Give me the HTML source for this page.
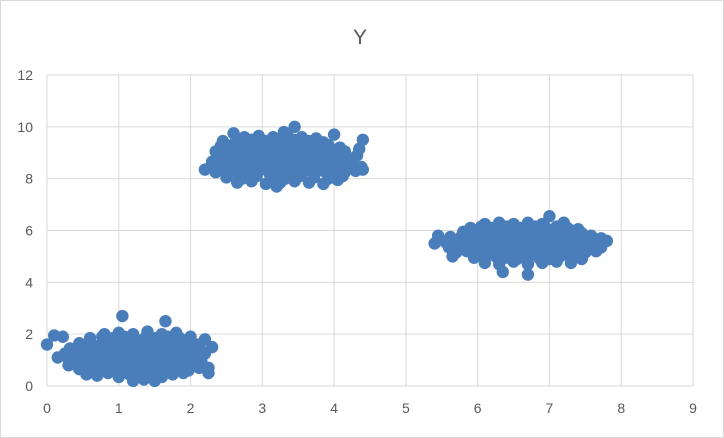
<!DOCTYPE html>
<html><head><meta charset="utf-8"><style>
html,body{margin:0;padding:0;background:#fff;}
svg{display:block;font-family:"Liberation Sans",Calibri,sans-serif;}
</style></head><body>
<svg id="chart" width="724" height="438">
<rect x="0.5" y="0.5" width="723" height="437" fill="#fff" stroke="#d9d9d9"/>
<text x="360" y="44" text-anchor="middle" font-size="21" fill="#595959">Y</text>
<g id="grid"></g><g id="axes"></g><g id="pts"></g>
</svg>
<script>
const xTicks=[0,1,2,3,4,5,6,7,8,9];
const yTicks=[0,2,4,6,8,10,12];
const clusterA=[[0,1.6],[0.1,1.95],[0.22,1.9],[0.15,1.1],[0.3,0.8],[1.05,2.7],[1.65,2.5],[2.25,0.7],[2.25,0.5],[2.3,1.5],[2.2,1.8],
[0.55,0.45],[0.7,0.4],[0.85,0.5],[1.0,0.35],[1.15,0.45],[1.3,0.4],[1.45,0.5],[1.6,0.35],[1.75,0.45],[1.9,0.5],
[0.35,0.85],[0.5,0.9],[0.65,0.8],[0.8,0.9],[0.95,0.85],[1.1,0.8],[1.25,0.9],[1.4,0.85],[1.55,0.8],[1.7,0.9],[1.85,0.85],[2.0,0.9],[2.15,0.95],
[0.25,1.25],[0.4,1.3],[0.55,1.2],[0.7,1.3],[0.85,1.25],[1.0,1.2],[1.15,1.3],[1.3,1.25],[1.45,1.2],[1.6,1.3],[1.75,1.25],[1.9,1.2],[2.05,1.3],[2.2,1.25],
[0.45,1.65],[0.6,1.7],[0.75,1.6],[0.9,1.7],[1.05,1.65],[1.2,1.6],[1.35,1.7],[1.5,1.65],[1.65,1.6],[1.8,1.7],[1.95,1.65],[2.1,1.6],
[0.8,2.0],[1.0,2.05],[1.2,2.0],[1.4,2.1],[1.6,2.0],[1.8,2.05],[1.2,0.2],[1.35,0.25],[1.5,0.2],
[0.45,0.65],[0.62,0.6],[0.78,0.7],[0.92,0.65],[1.08,0.6],[1.22,0.7],[1.38,0.65],[1.52,0.6],[1.68,0.7],[1.82,0.65],[1.97,0.6],[2.12,0.7],
[0.3,1.05],[0.47,1.0],[0.62,1.1],[0.78,1.05],[0.92,1.0],[1.07,1.1],[1.22,1.05],[1.37,1.0],[1.52,1.1],[1.67,1.05],[1.82,1.0],[1.97,1.1],[2.12,1.05],
[0.32,1.45],[0.48,1.4],[0.62,1.5],[0.78,1.45],[0.92,1.4],[1.08,1.5],[1.22,1.45],[1.38,1.4],[1.52,1.5],[1.68,1.45],[1.82,1.4],[1.98,1.5],[2.13,1.45],
[0.6,1.85],[0.77,1.9],[0.92,1.85],[1.08,1.9],[1.22,1.85],[1.38,1.9],[1.52,1.85],[1.68,1.9],[1.85,1.85],[2.0,1.9]];
const clusterB=[[2.2,8.35],[2.6,9.75],[3.45,10.0],[3.3,9.8],[4.0,9.7],[4.4,9.5],[4.35,9.15],[4.4,8.35],[3.2,7.7],
[2.65,7.85],[2.85,7.9],[3.05,7.8],[3.25,7.85],[3.45,7.9],[3.65,7.85],[3.85,7.8],[4.05,7.95],
[2.35,8.25],[2.5,8.3],[2.65,8.2],[2.8,8.25],[2.95,8.3],[3.1,8.2],[3.25,8.25],[3.4,8.3],[3.55,8.2],[3.7,8.25],[3.85,8.3],[4.0,8.2],[4.15,8.25],[4.3,8.3],
[2.3,8.65],[2.45,8.7],[2.6,8.6],[2.75,8.65],[2.9,8.7],[3.05,8.6],[3.2,8.65],[3.35,8.7],[3.5,8.6],[3.65,8.65],[3.8,8.7],[3.95,8.6],[4.1,8.65],[4.25,8.7],
[2.35,9.05],[2.5,9.1],[2.65,9.0],[2.8,9.05],[2.95,9.1],[3.1,9.0],[3.25,9.05],[3.4,9.1],[3.55,9.0],[3.7,9.05],[3.85,9.1],[4.0,9.0],[4.15,9.05],
[2.45,9.45],[2.65,9.4],[2.85,9.5],[3.05,9.45],[3.25,9.4],[3.45,9.5],[3.65,9.45],[3.85,9.4],
[2.5,8.05],[2.72,8.0],[2.92,8.1],[3.12,8.05],[3.32,8.0],[3.52,8.1],[3.72,8.05],[3.92,8.0],[4.12,8.1],
[2.28,8.45],[2.42,8.5],[2.58,8.4],[2.72,8.45],[2.88,8.5],[3.02,8.4],[3.18,8.45],[3.32,8.5],[3.48,8.4],[3.62,8.45],[3.78,8.5],[3.92,8.4],[4.08,8.45],[4.22,8.5],[4.38,8.45],
[2.38,8.85],[2.52,8.9],[2.68,8.8],[2.82,8.85],[2.98,8.9],[3.12,8.8],[3.28,8.85],[3.42,8.9],[3.58,8.8],[3.72,8.85],[3.88,8.9],[4.02,8.8],[4.18,8.85],[4.32,8.9],
[2.42,9.25],[2.58,9.3],[2.72,9.2],[2.88,9.25],[3.02,9.3],[3.18,9.2],[3.32,9.25],[3.48,9.3],[3.62,9.2],[3.78,9.25],[3.92,9.3],[4.08,9.2],
[2.75,9.6],[2.95,9.65],[3.15,9.6],[3.35,9.65],[3.55,9.6],[3.75,9.55]];
const clusterC=[[5.4,5.5],[5.45,5.8],[7.0,6.55],[7.8,5.6],[5.65,5.0],[6.35,4.4],[6.7,4.3],
[6.1,4.75],[6.3,4.7],[6.5,4.8],[6.7,4.7],[6.9,4.75],[7.1,4.8],[7.3,4.75],
[5.7,5.15],[5.85,5.2],[6.0,5.1],[6.15,5.15],[6.3,5.2],[6.45,5.1],[6.6,5.15],[6.75,5.2],[6.9,5.1],[7.05,5.15],[7.2,5.2],[7.35,5.1],[7.5,5.15],[7.65,5.2],
[5.55,5.55],[5.7,5.6],[5.85,5.5],[6.0,5.55],[6.15,5.6],[6.3,5.5],[6.45,5.55],[6.6,5.6],[6.75,5.5],[6.9,5.55],[7.05,5.6],[7.2,5.5],[7.35,5.55],[7.5,5.6],[7.65,5.5],[7.75,5.55],
[5.8,5.95],[5.95,6.0],[6.1,5.9],[6.25,5.95],[6.4,6.0],[6.55,5.9],[6.7,5.95],[6.85,6.0],[7.0,5.9],[7.15,5.95],[7.3,6.0],[7.45,5.9],
[6.1,6.25],[6.3,6.3],[6.5,6.25],[6.7,6.3],[6.9,6.25],[7.2,6.3],
[5.95,4.95],[6.1,4.9],[6.25,5.0],[6.4,4.95],[6.55,4.9],[6.7,5.0],[6.85,4.95],[7.0,4.9],[7.15,5.0],[7.3,4.95],[7.45,4.9],
[5.6,5.35],[5.78,5.4],[5.92,5.3],[6.08,5.35],[6.22,5.4],[6.38,5.3],[6.52,5.35],[6.68,5.4],[6.82,5.3],[6.98,5.35],[7.12,5.4],[7.28,5.3],[7.42,5.35],[7.58,5.4],[7.72,5.35],
[5.62,5.75],[5.78,5.8],[5.92,5.7],[6.08,5.75],[6.22,5.8],[6.38,5.7],[6.52,5.75],[6.68,5.8],[6.82,5.7],[6.98,5.75],[7.12,5.8],[7.28,5.7],[7.42,5.75],[7.58,5.8],[7.72,5.7],
[5.9,6.1],[6.05,6.15],[6.2,6.1],[6.4,6.15],[6.6,6.1],[6.8,6.15],[6.95,6.1],[7.1,6.15],[7.25,6.1],[7.4,6.05]];
const NS="http://www.w3.org/2000/svg";
const L=47,R=693,T=75,B=386;
const sx=v=>L+(v-0)/(9-0)*(R-L);
const sy=v=>B-(v-0)/(12-0)*(B-T);
const grid=document.getElementById('grid'),axes=document.getElementById('axes'),pts=document.getElementById('pts');
function mk(tag,attrs,parent){const e=document.createElementNS(NS,tag);for(const k in attrs)e.setAttribute(k,attrs[k]);parent.appendChild(e);return e;}
xTicks.forEach(t=>{
 const l=mk('line',{x1:sx(t),x2:sx(t),y1:T,y2:B,stroke:'#d9d9d9'},grid);
 
 
 const tx=mk('text',{x:sx(t),y:B+27,'text-anchor':'middle','font-size':14,fill:'#595959'},axes);
 tx.textContent=t;
 
 
});
yTicks.forEach(t=>{
 const l=mk('line',{x1:L,x2:R,y1:sy(t),y2:sy(t),stroke:'#d9d9d9'},grid);
 
 
 const tx=mk('text',{x:L-14,y:sy(t)+5,'text-anchor':'end','font-size':14,fill:'#595959'},axes);
 tx.textContent=t;
 
 
});
[clusterA,clusterB,clusterC].forEach(c=>c.forEach(p=>{
 const e=mk('circle',{cx:sx(p[0]),cy:sy(p[1]),r:6.2,fill:'#4a7ebb'},pts);
 
 
}));
</script>
</body></html>
